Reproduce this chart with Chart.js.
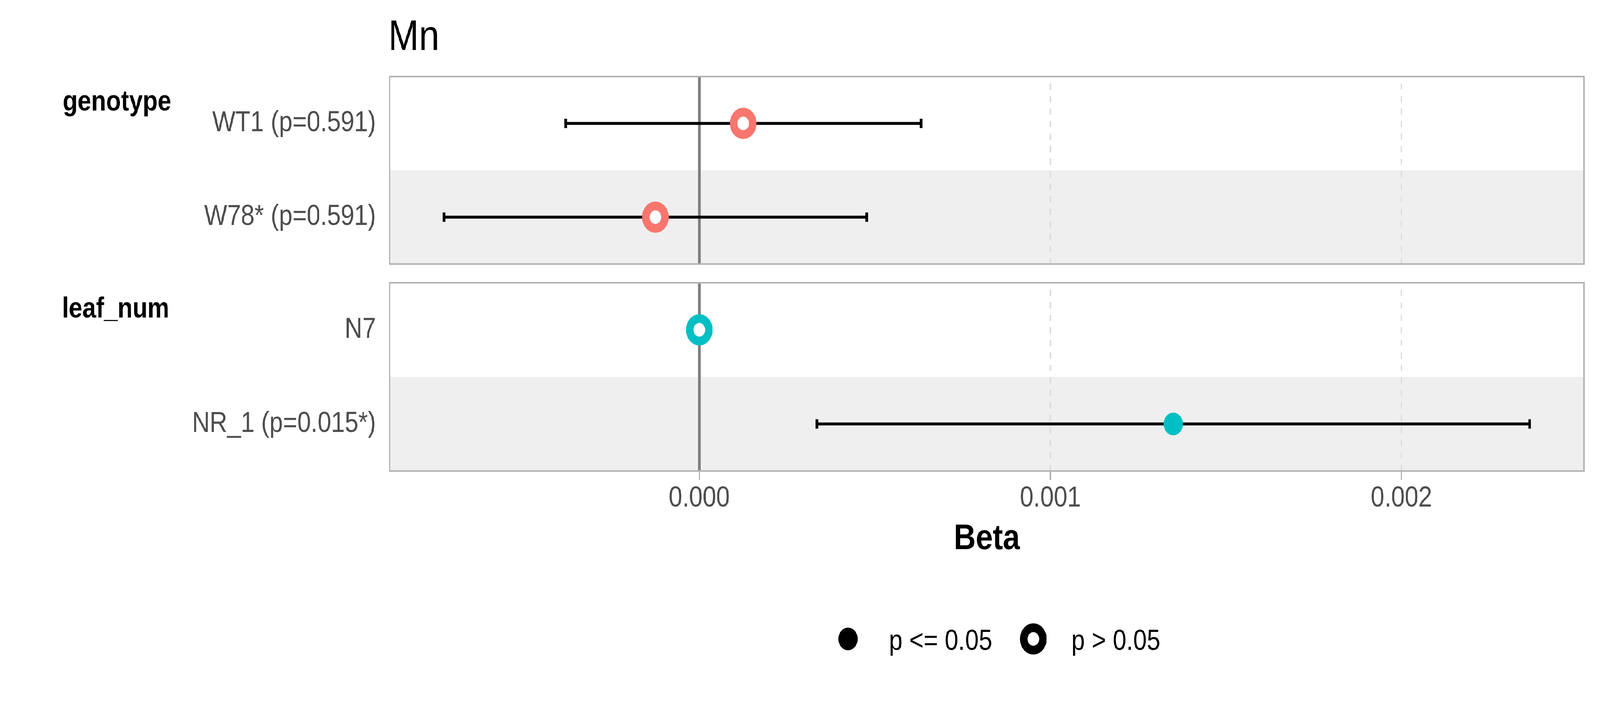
<!DOCTYPE html>
<html>
<head>
<meta charset="utf-8">
<title>Mn</title>
<script src="https://cdn.jsdelivr.net/npm/chart.js@4.4.1/dist/chart.umd.min.js"></script>
<style>
  html, body { margin:0; padding:0; background:#fff; overflow:hidden; }
  #stage { position:relative; overflow:hidden; }
  #wrap { position:absolute; left:0; top:0; width:4800px; height:1800px; transform-origin:0 0; }
  canvas { position:absolute; left:0; }
</style>
</head>
<body>
<div id="stage">
<div id="wrap">
  <canvas id="c1" width="4800" height="700" style="top:0;width:4800px;height:700px"></canvas>
  <canvas id="c2" width="4800" height="1100" style="top:700px;width:4800px;height:1100px"></canvas>
</div>
</div>
<script>
// values
const plotTitle = 'Mn'
const xTitle = 'Beta'
const xMin = -0.000882
const xMax = 0.00252
const xTicks = [0, 0.001, 0.002]
const refValue = 0

const genoTerms = ['WT1 (p=0.591)', 'W78* (p=0.591)']
const genoBeta = [0.000125, -0.000125]
const genoLow = [-0.000381, -0.000727]
const genoHigh = [0.000632, 0.000477]
const genoP = [0.591, 0.591]

const leafTerms = ['N7', 'NR_1 (p=0.015*)']
const leafBeta = [0, 0.00135]
const leafLow = [null, 0.000335]
const leafHigh = [null, 0.002365]
const leafP = [null, 0.015]

const legendLabels = ['p <= 0.05', 'p > 0.05']

const font = '"Liberation Sans", Arial, Helvetica, sans-serif'
Chart.defaults.font.family = font

// the window may not really be 4800x1800: stretch the layout over it
const sx = (window.innerWidth || 4800) / 4800
const sy = (window.innerHeight || 1800) / 1800
const stage = document.getElementById('stage')
stage.style.width = `${4800 * sx}px`
stage.style.height = `${1800 * sy}px`
document.getElementById('wrap').style.transform = `scale(${sx}, ${sy})`
const dpr = (window.devicePixelRatio || 1) * Math.max(sx, sy)

const sig = p => p !== null && p <= 0.05

// bands, zero line, panel border and the loose texts
const decor = {
    id: 'decor',
    beforeDraw(c) {
        const {ctx, chartArea: a, scales: {y}} = c
        ctx.save()
        ctx.fillStyle = '#efefef'
        y.getLabels().forEach((l, i) => {
            if (i % 2 == 0) return
            const t = Math.max(a.top, y.getPixelForValue(i - 0.5))
            const b = Math.min(a.bottom, y.getPixelForValue(i + 0.5))
            ctx.fillRect(a.left, t, a.right - a.left, b - t)
        })
        ctx.restore()
    },
    beforeDatasetsDraw(c) {
        const {ctx, chartArea: a, scales: {x}} = c
        const px = x.getPixelForValue(refValue)
        ctx.save()
        ctx.strokeStyle = '#7f7f7f'
        ctx.lineWidth = 8
        ctx.beginPath()
        ctx.moveTo(px, a.top)
        ctx.lineTo(px, a.bottom)
        ctx.stroke()
        ctx.restore()
    },
    afterDraw(c, args, o) {
        const {ctx, chartArea: a} = c
        ctx.save()
        ctx.strokeStyle = '#b3b3b3'
        ctx.lineWidth = 4
        ctx.strokeRect(a.left, a.top, a.right - a.left, a.bottom - a.top)

        const texts = o.texts || []
        texts.forEach(t => {
            ctx.font = `${t.bold ? 'bold ' : ''}${t.size}px ${font}`
            ctx.fillStyle = t.color || '#000'
            ctx.textAlign = 'left'
            ctx.textBaseline = 'alphabetic'
            ctx.fillText(t.text, t.x, t.y)
        })

        const keys = o.legend || []
        keys.forEach(k => {
            ctx.beginPath()
            if (k.filled) {
                ctx.fillStyle = '#000'
                ctx.arc(k.x, k.y, 29, 0, Math.PI * 2)
                ctx.fill()
            } else {
                ctx.fillStyle = '#fff'
                ctx.strokeStyle = '#000'
                ctx.lineWidth = 22.5
                ctx.arc(k.x, k.y, 28.75, 0, Math.PI * 2)
                ctx.fill()
                ctx.stroke()
            }
            ctx.font = `73.3px ${font}`
            ctx.fillStyle = '#000'
            ctx.textAlign = 'left'
            ctx.textBaseline = 'alphabetic'
            ctx.fillText(k.text, k.tx, k.ty)
        })
        ctx.restore()
    }
}

const panel = (el, terms, beta, low, high, p, colour, showAxis, pad, extra) => {
    const ci = terms.map((t, i) => low[i] === null ? null : {
        data: [{x: low[i], y: t}, {x: high[i], y: t}],
        showLine: true,
        order: 1,
        borderColor: '#000',
        borderWidth: 7.3,
        pointStyle: 'line',
        pointRotation: 90,
        pointRadius: 12,
        pointBorderWidth: 8,
        pointBorderColor: '#000',
    }).filter(Boolean)

    return new Chart(el, {
        type: 'scatter',
        data: {
            datasets: [{
                data: terms.map((t, i) => ({x: beta[i], y: t})),
                order: 0,
                pointStyle: 'circle',
                pointRadius: c => sig(p[c.dataIndex]) ? 29 : 28.75,
                pointBorderWidth: c => sig(p[c.dataIndex]) ? 0 : 22.5,
                pointBackgroundColor: c => sig(p[c.dataIndex]) ? colour : '#ffffff',
                pointBorderColor: colour,
            }, ...ci]
        },
        options: {
            responsive: false,
            animation: false,
            devicePixelRatio: dpr,
            events: [],
            layout: { padding: pad, autoPadding: false },
            plugins: {
                legend: { display: false },
                tooltip: { enabled: false },
                decor: extra,
            },
            scales: {
                x: {
                    type: 'linear',
                    min: xMin,
                    max: xMax,
                    afterBuildTicks: s => { s.ticks = xTicks.map(v => ({value: v})) },
                    afterFit: s => { s.height = showAxis ? 240 : 0 },
                    grid: {
                        color: '#dcdcdc',
                        lineWidth: 4,
                        drawTicks: showAxis,
                        tickLength: 23,
                        tickColor: '#b3b3b3',
                        tickWidth: 4,
                        tickBorderDash: [],
                    },
                    border: { display: false, dash: [16, 16], dashOffset: 14 },
                    ticks: {
                        display: showAxis,
                        padding: 4,
                        color: '#4d4d4d',
                        font: { size: 73.3 },
                        maxRotation: 0,
                        autoSkip: false,
                        callback: v => v.toFixed(3),
                    },
                    title: {
                        display: showAxis,
                        text: xTitle,
                        color: '#000',
                        font: { size: 91.7, weight: 'bold' },
                        padding: { top: 0, bottom: 10 },
                    },
                },
                y: {
                    type: 'category',
                    labels: terms,
                    offset: true,
                    // fixed width; the offset already leaves room for the labels
                    afterFit: s => { s.width = 1169; s.paddingTop = 0; s.paddingBottom = 0 },
                    grid: { display: false, drawTicks: false },
                    border: { display: false },
                    ticks: { padding: 41, color: '#4d4d4d', font: { size: 73.3 } },
                },
            },
        },
        plugins: [decor],
    })
}

panel(document.getElementById('c1'), genoTerms, genoBeta, genoLow, genoHigh, genoP, '#F8766D', false,
    { top: 196, bottom: 24, left: 0, right: 48 },
    { texts: [
        { text: plotTitle, x: 1165, y: 128, size: 110 },
        { text: 'genotype', x: 188, y: 283, size: 73.3, bold: true },
    ] })

panel(document.getElementById('c2'), leafTerms, leafBeta, leafLow, leafHigh, leafP, '#00BFC4', true,
    { top: 24, bottom: 354, left: 0, right: 48 },
    { texts: [
        { text: 'leaf_num', x: 186, y: 113, size: 73.3, bold: true },
    ],
      legend: [
        { text: legendLabels[0], filled: true, x: 2544, y: 936, tx: 2667, ty: 964 },
        { text: legendLabels[1], filled: false, x: 3100, y: 936, tx: 3214, ty: 964 },
    ] })
</script>
</body>
</html>
